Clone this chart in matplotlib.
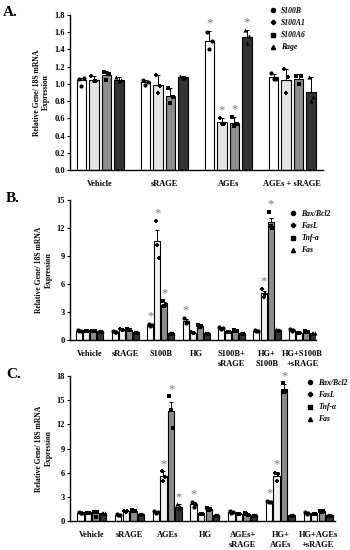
import numpy as np
import matplotlib
matplotlib.use('Agg')
from matplotlib import pyplot as plt
from matplotlib.lines import Line2D

plt.rcParams['font.family'] = 'Liberation Serif'
plt.rcParams['font.weight'] = 'bold'

# ---- panel A ----
groups_a = ['Vehicle', 'sRAGE', 'AGEs', 'AGEs + sRAGE']
series_a = ['S100B', 'S100A1', 'S100A6', 'Rage']
means_a = [[1.04, 1.02, 1.50, 1.08],
           [1.05, 0.99, 0.56, 1.05],
           [1.10, 0.86, 0.55, 1.06],
           [1.05, 1.08, 1.55, 0.91]]
err_a = [[0.03, 0.03, 0.11, 0.03],
         [0.04, 0.11, 0.04, 0.12],
         [0.05, 0.09, 0.06, 0.05],
         [0.03, 0.01, 0.07, 0.17]]
pts_a = [[[1.06, 0.98, 1.07], [1.05, 0.99, 1.02], [1.60, 1.40, 1.50], [1.13, 1.06, 1.06]],
         [[1.09, 1.03, 1.03], [1.10, 0.90, 0.97], [0.60, 0.54, 0.54], [1.17, 0.90, 1.08]],
         [[1.14, 1.05, 1.12], [0.95, 0.78, 0.85], [0.61, 0.51, 0.54], [1.09, 1.00, 1.09]],
         [[1.08, 1.03, 1.04], [1.09, 1.07, 1.08], [1.62, 1.47, 1.56], [1.08, 0.80, 0.85]]]
star_a = [(0, 2), (1, 2), (2, 2), (3, 2)]

# ---- panel B ----
groups_b = ['Vehicle', 'sRAGE', 'S100B', 'HG', 'S100B+\nsRAGE', 'HG+\nS100B', 'HG+S100B\n+sRAGE']
series_bc = ['Bax/Bcl2', 'FasL', 'Tnf-a', 'Fas']
means_b = [[1.0, 0.9, 1.6, 2.0, 1.3, 1.0, 1.1],
           [1.0, 1.1, 10.6, 0.8, 0.9, 5.0, 0.8],
           [1.0, 1.1, 3.8, 1.5, 1.0, 12.6, 0.9],
           [1.0, 0.9, 0.8, 0.8, 0.8, 1.1, 0.7]]
err_b = [[0.05, 0.05, 0.1, 0.3, 0.1, 0.1, 0.1],
         [0.05, 0.1, 1.2, 0.1, 0.05, 0.3, 0.05],
         [0.05, 0.1, 0.3, 0.15, 0.1, 0.5, 0.1],
         [0.05, 0.05, 0.05, 0.05, 0.05, 0.1, 0.05]]
pts_b = [[[1.1, 1.0, 1.0], [1.0, 0.9, 0.9], [1.7, 1.5, 1.6], [2.4, 1.8, 1.9], [1.4, 1.2, 1.3], [1.1, 1.0, 1.0], [1.2, 1.0, 1.1]],
         [[1.0, 1.0, 1.0], [1.2, 1.1, 1.1], [12.8, 10.2, 8.8], [0.9, 0.8, 0.8], [0.9, 0.9, 0.9], [5.5, 4.6, 4.9], [0.8, 0.8, 0.8]],
         [[1.0, 1.0, 1.0], [1.2, 1.1, 1.1], [4.2, 3.6, 3.7], [1.6, 1.4, 1.5], [1.1, 1.0, 1.0], [13.7, 12.2, 12.0], [1.0, 0.9, 0.9]],
         [[1.0, 1.0, 1.0], [0.9, 0.9, 0.9], [0.8, 0.8, 0.8], [0.8, 0.8, 0.8], [0.8, 0.8, 0.8], [1.2, 1.1, 1.1], [0.7, 0.7, 0.7]]]
star_b = [(0, 2), (1, 2), (2, 2), (0, 3), (1, 5), (2, 5)]

# ---- panel C ----
groups_c = ['Vehicle', 'sRAGE', 'AGEs', 'HG', 'AGEs+\nsRAGE', 'HG+\nAGEs', 'HG+AGEs\n+sRAGE']
means_c = [[1.0, 0.8, 1.1, 2.1, 1.1, 2.4, 1.0],
           [1.0, 1.2, 5.6, 0.9, 0.9, 5.6, 0.9],
           [1.0, 1.3, 13.6, 1.5, 0.9, 16.4, 1.2],
           [1.0, 0.9, 1.8, 0.8, 0.8, 0.8, 0.8]]
err_c = [[0.05, 0.05, 0.1, 0.3, 0.1, 0.1, 0.1],
         [0.05, 0.1, 0.6, 0.1, 0.05, 0.5, 0.05],
         [0.1, 0.1, 1.2, 0.15, 0.1, 0.6, 0.1],
         [0.05, 0.05, 0.3, 0.05, 0.05, 0.05, 0.05]]
pts_c = [[[1.1, 1.0, 1.0], [0.9, 0.8, 0.8], [1.2, 1.0, 1.1], [2.4, 1.8, 2.1], [1.3, 1.0, 1.1], [2.5, 2.3, 2.4], [1.1, 0.9, 1.0]],
         [[1.0, 1.0, 1.0], [1.3, 1.1, 1.2], [6.2, 5.0, 5.5], [0.9, 0.9, 0.9], [0.9, 0.9, 0.9], [6.0, 5.0, 5.8], [0.9, 0.9, 0.9]],
         [[1.1, 0.5, 1.1], [1.4, 1.2, 1.3], [15.5, 13.8, 11.5], [1.6, 1.4, 1.5], [1.0, 0.9, 0.8], [17.1, 16.0, 16.1], [1.3, 1.1, 1.2]],
         [[1.0, 1.0, 1.0], [0.9, 0.9, 0.9], [2.1, 1.6, 1.7], [0.8, 0.8, 0.8], [0.8, 0.8, 0.8], [0.8, 0.8, 0.8], [0.8, 0.8, 0.8]]]
star_c = [(1, 2), (2, 2), (3, 2), (0, 3), (0, 5), (1, 5), (2, 5)]

colors_a = ['white', '#e4e4e4', '#8c8c8c', '#333333']
colors_bc = ['white', '#f2f2f2', '#8c8c8c', '#333333']
markers = ['o', 'P', 's', '^']
ylab = 'Relative Gene/ 18S mRNA\nExpression'

fig = plt.figure(figsize=(3.5, 5.5), dpi=100)


def panel(rect, groups, series, means, errs, pts, stars, colors, xlim, ylim, yticks,
          ytl, width, step, star_off, leg_xy, letter, letter_xy):
    ax = fig.add_axes(rect)
    x = np.arange(len(groups))
    for i in range(4):
        xs = x + (i - 1.5) * step
        m = np.array(means[i])
        e = np.array(errs[i])
        ax.bar(xs, m, width, color=colors[i], edgecolor='black', linewidth=0.8, zorder=2)
        ax.errorbar(xs, m, yerr=[np.zeros_like(e), e], fmt='none', ecolor='black',
                    elinewidth=0.7, capsize=1.5, capthick=0.7, zorder=3)
        for j in range(len(groups)):
            p = pts[i][j]
            jit = [-0.25 * width, 0, 0.25 * width]
            ax.scatter(xs[j] + np.array(jit), p, s=9, marker=markers[i], color='black',
                       linewidths=0, zorder=4)
    for i, j in stars:
        xs = x[j] + (i - 1.5) * step
        top = max(means[i][j] + errs[i][j], max(pts[i][j]))
        ax.text(xs, top + star_off, '*', ha='center', va='bottom', color='#777777',
                fontsize=9, fontweight='normal', zorder=5)
    ax.set_xlim(*xlim)
    ax.set_ylim(*ylim)
    ax.set_yticks(yticks)
    ax.set_yticklabels(ytl, fontsize=6, fontweight='bold')
    ax.set_xticks(x)
    ax.set_xticklabels(groups, fontsize=6, fontweight='bold', linespacing=1.4)
    ax.tick_params(axis='x', length=0, pad=7)
    ax.tick_params(axis='y', length=2.5, width=0.8, pad=1)
    for s in ['top', 'right']:
        ax.spines[s].set_visible(False)
    for s in ['left', 'bottom']:
        ax.spines[s].set_linewidth(1.0)
    ax.set_ylabel(ylab, fontsize=5.5, fontweight='bold', labelpad=3, linespacing=1.2)
    handles = [Line2D([], [], marker=markers[i], linestyle='none', color='black',
                      markersize=3) for i in range(4)]
    labels = [s.replace('Tnf-a', 'Tnf-\u03b1') if letter == 'C.' else s for s in series]
    ax.legend(handles, labels, loc='upper left', bbox_to_anchor=leg_xy,
              bbox_transform=fig.transFigure, frameon=False, handletextpad=0.6,
              labelspacing=0.55, handlelength=1.0, borderpad=0,
              prop={'family': 'Liberation Serif', 'style': 'italic', 'weight': 'bold', 'size': 5.5})
    fig.text(letter_xy[0], letter_xy[1], letter, fontsize=11, fontweight='bold', va='center')
    return ax


panel([70 / 350, 1 - 170 / 550, 253 / 350, 155 / 550], groups_a, series_a, means_a, err_a,
      pts_a, star_a, colors_a, (-0.47, 3.48), (0, 1.8), np.arange(0, 1.81, 0.2),
      ['%.1f' % v for v in np.arange(0, 1.81, 0.2)], 0.15, 0.195, 0.02,
      (265 / 350, 1 - 3 / 550), 'A.', (3 / 350, 1 - 12 / 550))

panel([70 / 350, 1 - 340 / 550, 246 / 350, 140 / 550], groups_b, series_bc, means_b, err_b,
      pts_b, star_b, colors_bc, (-0.56, 6.38), (0, 15), np.arange(0, 16, 3),
      [str(v) for v in range(0, 16, 3)], 0.17, 0.2, 0.15,
      (285 / 350, 1 - 206 / 550), 'B.', (6 / 350, 1 - 198 / 550))

panel([70 / 350, 1 - 521 / 550, 265 / 350, 145 / 550], groups_c, series_bc, means_c, err_c,
      pts_c, star_c, colors_bc, (-0.58, 6.45), (0, 18), np.arange(0, 19, 3),
      [str(v) for v in range(0, 19, 3)], 0.17, 0.2, 0.15,
      (302 / 350, 1 - 375 / 550), 'C.', (6 / 350, 1 - 374 / 550))

fig.savefig('out.png', dpi=100)
